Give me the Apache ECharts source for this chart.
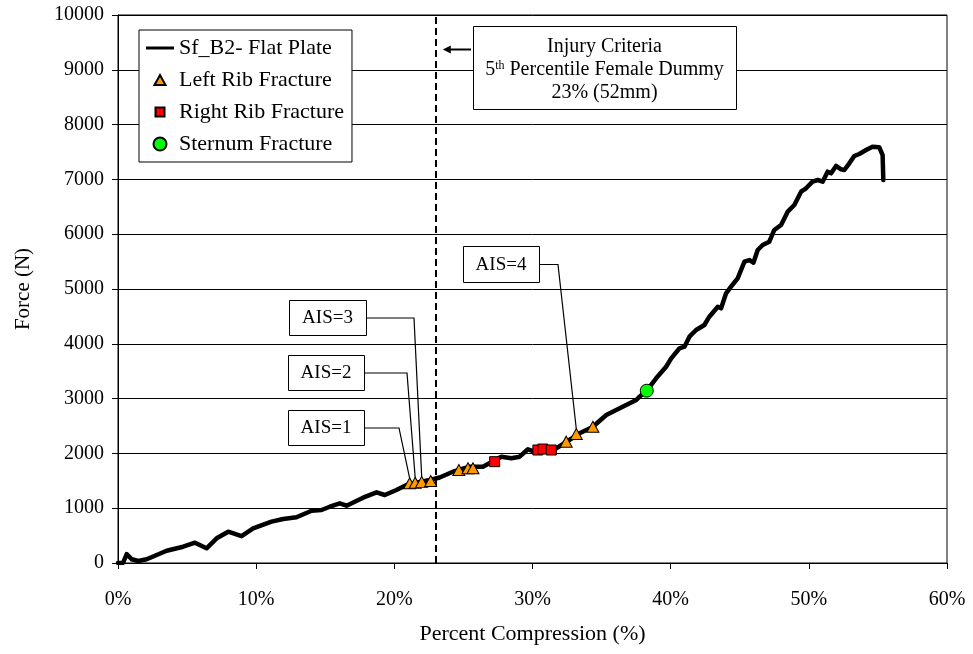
<!DOCTYPE html>
<html>
<head>
<meta charset="utf-8">
<script src="https://cdn.jsdelivr.net/npm/echarts@6/dist/echarts.min.js"></script>
<style>
  html, body { margin: 0; padding: 0; background: #fff; }
  #chart { width: 973px; height: 654px; }
</style>
</head>
<body>
<div id="chart"></div>
<script>
// Force–compression trace, percent compression (%) and force (N)
const curveX = [0, 0.36, 0.63, 0.99, 1.47, 2.08, 2.80, 3.52, 4.72, 5.57, 6.41, 7.14, 7.98, 8.94, 9.78,
  11.11, 11.95, 12.92, 14.01, 14.73, 15.33, 16.05, 16.54, 17.14, 17.74, 18.71, 19.31, 20.15, 20.88,
  21.60, 22.56, 23.28, 24.24, 25.45, 26.41, 27.74, 28.47, 29.07, 29.67, 30.15, 30.88, 31.72, 32.44,
  33.41, 34.35, 35.34, 36.78, 37.51, 37.74, 38.27, 38.95, 39.67, 40.04, 40.64, 41.00, 41.36, 41.84,
  42.44, 42.80, 43.41, 43.65, 44.01, 44.37, 44.85, 45.34, 45.70, 45.99, 46.30, 46.66, 47.14, 47.50,
  47.99, 48.47, 48.95, 49.44, 49.80, 50.27, 50.64, 51.00, 51.36, 51.61, 51.97, 52.33, 52.57, 52.93,
  53.29, 53.65, 54.14, 54.61, 55.10, 55.34, 55.39];
const curveF = [0, 0, 164, 68, 36, 68, 146, 224, 297, 370, 268, 451, 571, 490, 633,
  754, 803, 834, 954, 967, 1027, 1089, 1046, 1119, 1192, 1290, 1241, 1332, 1423,
  1465, 1515, 1560, 1666, 1757, 1757, 1940, 1911, 1940, 2075, 2031, 2062, 2093, 2208,
  2367, 2482, 2701, 2883, 2974, 3035, 3144, 3370, 3582, 3735, 3918, 3947, 4130, 4252,
  4343, 4495, 4677, 4648, 4922, 5042, 5195, 5498, 5529, 5480, 5712, 5803, 5863, 6077,
  6168, 6411, 6533, 6776, 6838, 6958, 6989, 6958, 7141, 7111, 7245, 7184, 7172, 7294,
  7427, 7464, 7536, 7597, 7586, 7445, 6989];

// Fracture events
const leftRibX = [21.11, 21.51, 21.98, 22.63, 24.67, 25.33, 25.69, 32.44, 33.17, 34.37];
const leftRibF = [1455, 1465, 1480, 1495, 1697, 1728, 1728, 2214, 2354, 2487];
const rightRibX = [27.26, 30.39, 30.75, 31.36];
const rightRibF = [1849, 2062, 2080, 2062];
const sternumX = [38.27];
const sternumF = [3144];

// Injury criterion (percent compression)
const criterionX = 23;
const criterionLines = ['Injury Criteria', '{n|5}{sup|th}{n| Percentile Female Dummy}', '23% (52mm)'];

// AIS call-outs: label and index of the left-rib fracture they point at
const aisLabels = ['AIS=1', 'AIS=2', 'AIS=3', 'AIS=4'];
const aisTarget = [0, 1, 2, 8];

// Axis ticks
const xTicks = { min: 0, max: 60, step: 10 };
const yTicks = { min: 0, max: 10000, step: 1000 };

const FONT = '"Liberation Serif", "Times New Roman", serif';
const zip = (xs, ys) => xs.map((x, i) => [x, ys[i]]);

// Legend glyphs in a 28x14 box (the leading moves fix the box size)
const BOX = 'M0,0 M28,14 ';
const ICON_LINE = 'path://' + BOX + 'M0,5.5 L28,5.5 L28,8.5 L0,8.5 Z';
const ICON_TRI = 'path://' + BOX + 'M8.5,12 L14,2 L19.5,12 Z';
const ICON_SQ = 'path://' + BOX + 'M9.5,2.5 L18.5,2.5 L18.5,11.5 L9.5,11.5 Z';
const ICON_DOT = 'path://' + BOX + 'M7.5,7 A6.5,6.5 0 1,0 20.5,7 A6.5,6.5 0 1,0 7.5,7 Z';

const chart = echarts.init(document.getElementById('chart'), null, { renderer: 'canvas' });

const option = {
  animation: false,
  backgroundColor: '#fff',
  textStyle: { fontFamily: FONT, color: '#000' },
  grid: {
    left: 118, right: 26, top: 15, bottom: 91,
    show: true, borderColor: '#000', borderWidth: 1, backgroundColor: 'transparent'
  },
  xAxis: {
    type: 'value', min: xTicks.min, max: xTicks.max, interval: xTicks.step,
    name: 'Percent Compression (%)', nameLocation: 'middle', nameGap: 60,
    nameTextStyle: { fontFamily: FONT, fontSize: 22, color: '#000' },
    axisLine: { show: true, onZero: false, lineStyle: { color: '#000', width: 1 } },
    axisTick: { show: true, inside: false, length: 6, lineStyle: { color: '#000' } },
    axisLabel: { formatter: '{value}%', margin: 27, fontFamily: FONT, fontSize: 20, color: '#000' },
    splitLine: { show: false }
  },
  yAxis: {
    type: 'value', min: yTicks.min, max: yTicks.max, interval: yTicks.step,
    name: 'Force (N)', nameLocation: 'middle', nameGap: 84, nameRotate: 90,
    nameTextStyle: { fontFamily: FONT, fontSize: 21, color: '#000' },
    axisLine: { show: true, lineStyle: { color: '#000', width: 1 } },
    axisTick: { show: true, inside: false, length: 6, lineStyle: { color: '#000' } },
    axisLabel: { margin: 14, fontFamily: FONT, fontSize: 20, color: '#000', formatter: v => String(v) },
    splitLine: { show: true, lineStyle: { color: '#000', width: 1 } }
  },
  legend: {
    orient: 'vertical', left: 139, top: 30,
    padding: [7, 8, 7, 6], itemGap: 10, itemWidth: 28, itemHeight: 14,
    backgroundColor: '#fff', borderColor: '#000', borderWidth: 1, borderRadius: 0,
    textStyle: { fontFamily: FONT, fontSize: 22, color: '#000' },
    data: [
      { name: 'Sf_B2- Flat Plate', icon: ICON_LINE, itemStyle: { color: '#000', borderWidth: 0 } },
      { name: 'Left Rib Fracture', icon: ICON_TRI },
      { name: 'Right Rib Fracture', icon: ICON_SQ },
      { name: 'Sternum Fracture', icon: ICON_DOT }
    ]
  },
  series: [
    {
      name: 'Sf_B2- Flat Plate', type: 'line', data: zip(curveX, curveF),
      symbol: 'none', showSymbol: false, smooth: false,
      lineStyle: { color: '#000', width: 4.5, join: 'round', cap: 'round' },
      itemStyle: { color: '#000' },
      markLine: {
        silent: true, symbol: 'none', label: { show: false },
        lineStyle: { color: '#000', width: 2, type: [7, 4] },
        data: [{ xAxis: criterionX }]
      },
      z: 3
    },
    {
      name: 'Left Rib Fracture', type: 'scatter', data: zip(leftRibX, leftRibF),
      symbol: 'triangle', symbolSize: [12, 11],
      itemStyle: { color: '#FF9900', borderColor: '#000', borderWidth: 1, opacity: 1 },
      z: 5
    },
    {
      name: 'Right Rib Fracture', type: 'scatter', data: zip(rightRibX, rightRibF),
      symbol: 'rect', symbolSize: 10,
      itemStyle: { color: '#FF0000', borderColor: '#000', borderWidth: 1, opacity: 1 },
      z: 5
    },
    {
      name: 'Sternum Fracture', type: 'scatter', data: zip(sternumX, sternumF),
      symbol: 'circle', symbolSize: 13,
      itemStyle: { color: '#00FF00', borderColor: '#000', borderWidth: 1, opacity: 1 },
      z: 5
    }
  ]
};

chart.setOption(option);

// Annotation boxes and leader lines, anchored to the fracture markers
const boxes = [
  { x: 288, y: 410, w: 76, h: 35, elbow: 399 },
  { x: 288, y: 355, w: 76, h: 35, elbow: 407 },
  { x: 289, y: 300, w: 77, h: 35, elbow: 414 },
  { x: 463, y: 246, w: 76, h: 36, elbow: 558 }
];

const graphics = [];
aisLabels.forEach((label, i) => {
  const b = boxes[i];
  const k = aisTarget[i];
  const p = chart.convertToPixel({ seriesIndex: 1 }, [leftRibX[k], leftRibF[k]]);
  graphics.push({
    type: 'rect', z: 10,
    shape: { x: b.x + 0.5, y: b.y + 0.5, width: b.w, height: b.h },
    style: { fill: '#fff', stroke: '#000', lineWidth: 1 }
  });
  graphics.push({
    type: 'text', z: 11, x: b.x + b.w / 2, y: b.y + b.h / 2 + 1,
    style: { text: label, font: '19px ' + FONT, fill: '#000', align: 'center', verticalAlign: 'middle' }
  });
  const my = b.y + b.h / 2 + 0.5;
  graphics.push({
    type: 'polyline', z: 9,
    shape: { points: [[b.x + b.w, my], [b.elbow, my], [p[0], p[1] - 5]] },
    style: { stroke: '#000', lineWidth: 1.2, fill: null }
  });
});

// Injury criteria note with arrow toward the dashed line
const lineX = chart.convertToPixel({ xAxisIndex: 0 }, criterionX);
const note = { x: 473, y: 26, w: 263, h: 83 };
graphics.push({
  type: 'rect', z: 10,
  shape: { x: note.x + 0.5, y: note.y + 0.5, width: note.w, height: note.h },
  style: { fill: '#fff', stroke: '#000', lineWidth: 1 }
});
criterionLines.forEach((t, i) => {
  graphics.push({
    type: 'text', z: 11, x: note.x + note.w / 2, y: note.y + 21 + i * 23,
    style: {
      text: t, font: '20px ' + FONT, fill: '#000', align: 'center', verticalAlign: 'middle',
      rich: {
        n: { fontFamily: FONT, fontSize: 20, fill: '#000' },
        sup: { fontFamily: FONT, fontSize: 12, fill: '#000', verticalAlign: 'top', padding: [0, 0, 8, 0] }
      }
    }
  });
});
const ay = 49.5;
graphics.push({
  type: 'line', z: 10,
  shape: { x1: note.x - 2, y1: ay, x2: lineX + 13, y2: ay },
  style: { stroke: '#000', lineWidth: 2 }
});
graphics.push({
  type: 'polygon', z: 10,
  shape: { points: [[lineX + 7, ay], [lineX + 15, ay - 4], [lineX + 15, ay + 4]] },
  style: { fill: '#000' }
});

chart.setOption({ graphic: graphics });
</script>
</body>
</html>
